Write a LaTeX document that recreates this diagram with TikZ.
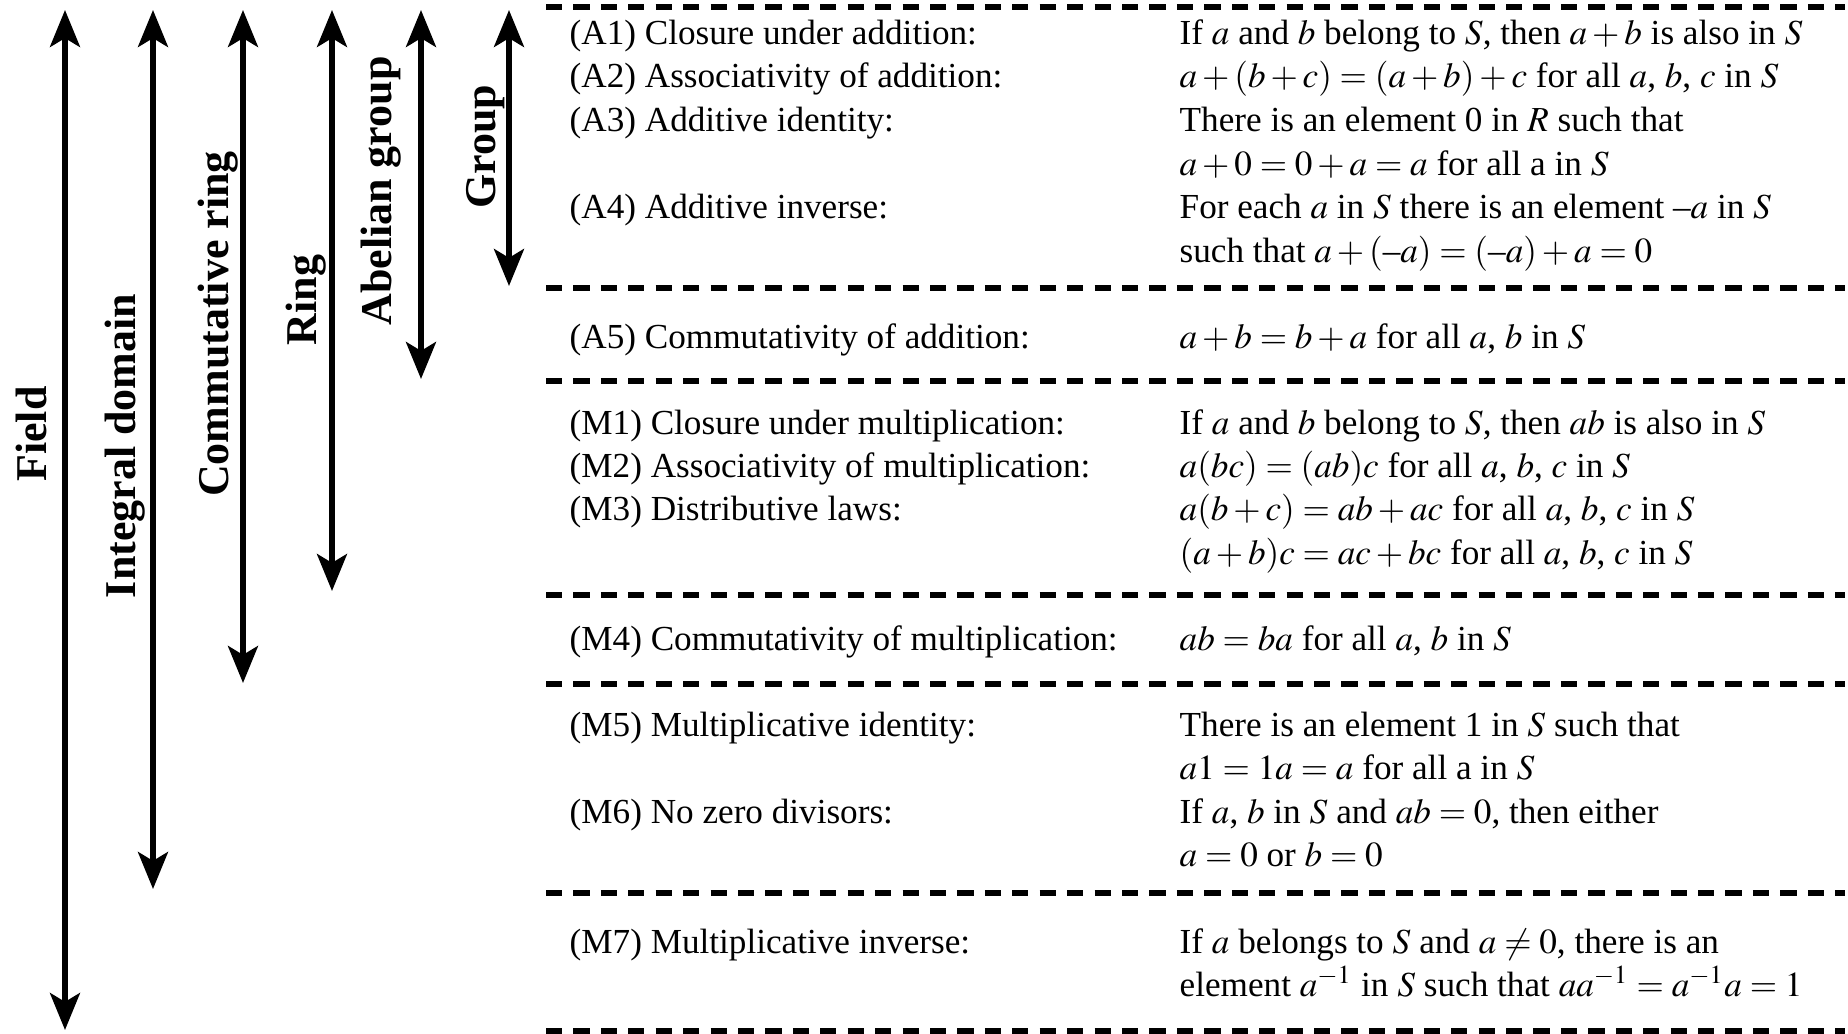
\documentclass[tikz,border=0pt]{standalone}
\usepackage{mathptmx}
\usepackage[no-math]{fontspec}
\setmainfont{Liberation Serif}
\usetikzlibrary{arrows.meta}
\tikzset{
  spanarrow/.style={{Stealth[length=10.5pt,width=8.5pt,inset=2.5pt]}-{Stealth[length=10.5pt,width=8.5pt,inset=2.5pt]}, line width=1.6pt},
  divider/.style={line width=1.6pt, dash pattern=on 4.6pt off 3.2pt},
  kind/.style={rotate=90, anchor=base, inner sep=0pt, font=\fontsize{12.5}{15}\selectfont\bfseries},
  law/.style={anchor=mid west, inner sep=0pt, font=\fontsize{10}{12}\selectfont}
}
\begin{document}
\begin{tikzpicture} [x=0.01cm, y=-0.01cm]
\useasboundingbox (0,0) rectangle (1848,1034);
\coordinate (fieldT) at (65, 10);
\coordinate (fieldB) at (65, 1030);
\coordinate (domainT) at (153, 10);
\coordinate (domainB) at (153, 889);
\coordinate (commT) at (243, 10);
\coordinate (commB) at (243, 683);
\coordinate (ringT) at (332, 10);
\coordinate (ringB) at (332, 591);
\coordinate (abelT) at (421, 10);
\coordinate (abelB) at (421, 379);
\coordinate (groupT) at (509, 10);
\coordinate (groupB) at (509, 286);
\draw[spanarrow] (fieldT) -- (fieldB);
\draw[spanarrow] (domainT) -- (domainB);
\draw[spanarrow] (commT) -- (commB);
\draw[spanarrow] (ringT) -- (ringB);
\draw[spanarrow] (abelT) -- (abelB);
\draw[spanarrow] (groupT) -- (groupB);
\node[kind] (field) at (46, 434) {Field};
\node[kind] (domain) at (135, 446) {Integral domain};
\node[kind] (comm) at (228, 324) {Commutative ring};
\node[kind] (ring) at (316, 300) {Ring};
\node[kind] (abel) at (391, 191) {Abelian group};
\node[kind] (group) at (495, 147) {Group};
\draw[divider] (546, 7) -- (1845, 7);
\draw[divider] (546, 288) -- (1845, 288);
\draw[divider] (546, 381) -- (1845, 381);
\draw[divider] (546, 595) -- (1845, 595);
\draw[divider] (546, 684) -- (1845, 684);
\draw[divider] (546, 893) -- (1845, 893);
\draw[divider] (546, 1031) -- (1845, 1031);
\node[law] (a1) at (569, 36) {(A1) Closure under addition:};
\node[law] (a1r) at (1179, 36) {If $a$ and $b$ belong to $S$, then $a + b$ is also in $S$};
\node[law] (a2) at (569, 79) {(A2) Associativity of addition:};
\node[law] (a2r) at (1179, 79) {$a + (b + c) = (a + b) + c$ for all $a$, $b$, $c$ in $S$};
\node[law] (a3) at (569, 123) {(A3) Additive identity:};
\node[law] (a3r) at (1179, 123) {There is an element 0 in $R$ such that};
\node[law] (a3s) at (1179, 167) {$a + 0 = 0 + a = a$ for all a in $S$};
\node[law] (a4) at (569, 210) {(A4) Additive inverse:};
\node[law] (a4r) at (1179, 210) {For each $a$ in $S$ there is an element --$a$ in $S$};
\node[law] (a4s) at (1179, 254) {such that $a + ($--$a) = ($--$a) + a = 0$};
\node[law] (a5) at (569, 340) {(A5) Commutativity of addition:};
\node[law] (a5r) at (1179, 340) {$a + b = b + a$ for all $a$, $b$ in $S$};
\node[law] (m1) at (569, 426) {(M1) Closure under multiplication:};
\node[law] (m1r) at (1179, 426) {If $a$ and $b$ belong to $S$, then $ab$ is also in $S$};
\node[law] (m2) at (569, 469) {(M2) Associativity of multiplication:};
\node[law] (m2r) at (1179, 469) {$a(bc) = (ab)c$ for all $a$, $b$, $c$ in $S$};
\node[law] (m3) at (569, 512) {(M3) Distributive laws:};
\node[law] (m3r) at (1179, 512) {$a(b + c) = ab + ac$ for all $a$, $b$, $c$ in $S$};
\node[law] (m3s) at (1179, 556) {$(a + b)c = ac + bc$ for all $a$, $b$, $c$ in $S$};
\node[law] (m4) at (569, 642) {(M4) Commutativity of multiplication:};
\node[law] (m4r) at (1179, 642) {$ab = ba$ for all $a$, $b$ in $S$};
\node[law] (m5) at (569, 728) {(M5) Multiplicative identity:};
\node[law] (m5r) at (1179, 728) {There is an element 1 in $S$ such that};
\node[law] (m5s) at (1179, 771) {$a1 = 1a = a$ for all a in $S$};
\node[law] (m6) at (569, 815) {(M6) No zero divisors:};
\node[law] (m6r) at (1179, 815) {If $a$, $b$ in $S$ and $ab = 0$, then either};
\node[law] (m6s) at (1179, 858) {$a = 0$ or $b = 0$};
\node[law] (m7) at (569, 945) {(M7) Multiplicative inverse:};
\node[law] (m7r) at (1179, 945) {If $a$ belongs to $S$ and $a \neq 0$, there is an};
\node[law] (m7s) at (1179, 988) {element $a^{-1}$ in $S$ such that $aa^{-1} = a^{-1}a = 1$};
\end{tikzpicture}
\end{document}
